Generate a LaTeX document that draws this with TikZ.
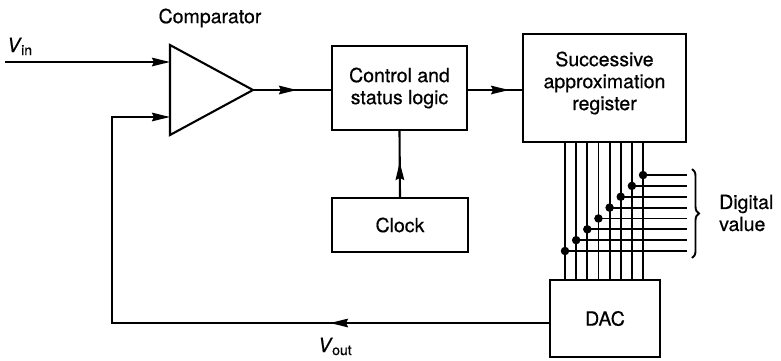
\documentclass[tikz,border=0pt]{standalone}
\usepackage{fontspec}
\setmainfont{TeX Gyre Heros}[FakeBold=0.5]
\usetikzlibrary{arrows.meta,decorations.markings,decorations.pathreplacing}
\tikzset{
  lbl/.style={font=\fontsize{19.5}{22}\selectfont, inner sep=0pt},
  blk/.style={draw, line width=2.1pt, font=\fontsize{19.5}{22}\selectfont, align=center, inner sep=0pt},
  wire/.style={line width=2.1pt},
  endarr/.style={wire, -{Stealth[length=18pt,width=8.5pt,inset=2pt]}},
  midarr/.style={wire, postaction={decorate}, decoration={markings,
      mark=at position #1 with {\arrow{Stealth[length=18pt,width=8.5pt,inset=2pt]}}}},
  dot/.style={circle, fill, inner sep=0pt, minimum size=8.5pt},
  bus/.style={line width=1.9pt}
}
\begin{document}
\begin{tikzpicture}[x=1pt,y=-1pt]
\useasboundingbox (0,0) rectangle (781,360);

% blocks
\node[blk, minimum width=135pt, minimum height=84pt] (ctrl) at (399.5,88) {Control and\\status logic};
\node[blk, minimum width=163pt, minimum height=108pt] (sar) at (604.5,88) {};
\node[lbl, align=center] (sartext) at (604.5,83) {Successive\\approximation\\register};
\node[blk, minimum width=136pt, minimum height=54pt] (clock) at (400,225) {Clock};
\node[blk, minimum width=110pt, minimum height=77pt] (dac) at (605,318.5) {DAC};

% comparator
\coordinate (ctop) at (170,45);
\coordinate (cout) at (253,90);
\coordinate (cbot) at (170,135);
\coordinate (cin1) at (170,62);
\coordinate (cin2) at (170,117);
\draw[wire, line join=miter] (ctop) -- (cout) -- (cbot) -- cycle;
\node[lbl] (comptext) at (210,18) {Comparator};

% inputs
\coordinate (vinstart) at (5,62);
\draw[endarr] (vinstart) -- (cin1);
\node[lbl, anchor=base west] (vin) at (7,52) {\itshape V\kern1pt\raisebox{-3pt}{\upshape\fontsize{14}{14}\selectfont in}};

% comparator -> control
\draw[midarr=44pt] (cout) -- (ctrl.west |- cout);
% control -> SAR
\draw[midarr=41pt] (ctrl.east |- cout) -- (sar.west |- cout);
% clock -> control
\draw[midarr=35pt] (clock.north) -- (ctrl.south);

% feedback
\coordinate (dacout) at (550,323);
\coordinate (fbcorner) at (112,323);
\coordinate (fbup) at (112,117);
\draw[wire, line join=miter, postaction={decorate}, decoration={markings,
      mark=at position 220pt with {\arrow{Stealth[length=18pt,width=8.5pt,inset=2pt]}}},
      -{Stealth[length=18pt,width=8.5pt,inset=2pt]}]
  (dacout) -- (fbcorner) -- (fbup) -- (cin2);
\node[lbl, anchor=base west] (vout) at (318,352) {\itshape V\kern1pt\raisebox{-3pt}{\upshape\fontsize{14}{14}\selectfont out}};

% bus
\foreach \i in {0,...,7}{
  \pgfmathsetmacro{\xx}{565+11.15*\i}
  \pgfmathsetmacro{\yy}{251-10.85*\i}
  \draw[bus] (\xx,142) -- (\xx,280);
  \node[dot] (d\i) at (\xx,\yy) {};
  \coordinate (e\i) at (687,\yy);
  \draw[bus] (d\i.center) -- (e\i);
}

% brace
\draw[bus, decorate, decoration={brace, amplitude=7pt}] (692,169) -- (692,258);
\node[lbl, anchor=west, align=left] (dig) at (719,213) {Digital\\value};
\end{tikzpicture}
\end{document}
